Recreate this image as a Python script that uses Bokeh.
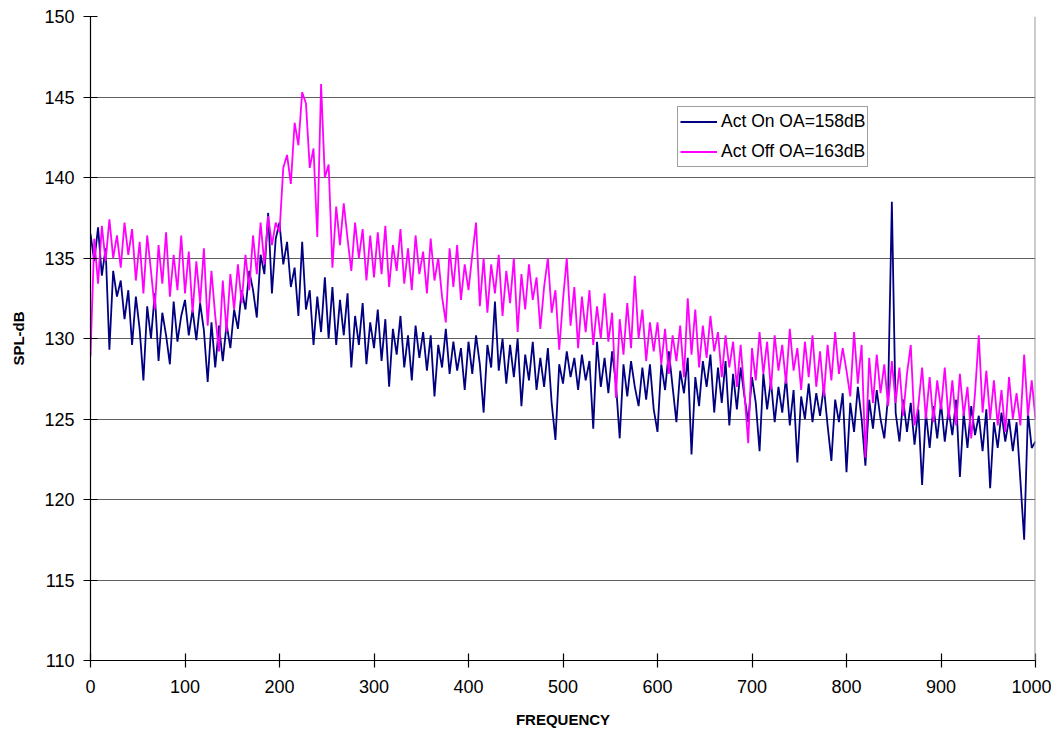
from bokeh.plotting import figure
from bokeh.models import FixedTicker, Span, Legend, LegendItem
from bokeh.embed import file_html
from bokeh.resources import INLINE

# Frequency grid (Hz), 4 Hz spacing
freq = list(range(0, 1001, 4))

# Act On OA=158dB (dB), one row per 100 Hz
act_on = [
    136.5, 134.8, 136.9, 133.9, 135.6, 129.3, 134.2, 132.6, 133.6, 131.2, 133.0, 129.6, 132.6, 130.6, 127.4, 132.0, 130.0, 132.8, 128.6, 131.6, 130.2, 128.4, 132.3, 129.8, 131.4,
    132.4, 130.2, 131.8, 129.9, 132.2, 130.5, 127.3, 131.0, 128.2, 130.8, 128.6, 130.9, 129.4, 131.8, 130.6, 133.0, 131.8, 134.2, 133.0, 131.3, 135.2, 134.0, 137.8, 132.8, 136.2,
    137.2, 134.6, 136.0, 133.2, 134.4, 131.4, 136.0, 131.8, 133.0, 129.6, 132.6, 130.4, 133.8, 130.0, 133.2, 129.6, 132.4, 130.2, 132.8, 128.2, 131.4, 129.6, 132.2, 128.4, 131.0,
    129.4, 131.8, 128.6, 131.2, 127.0, 130.6, 129.0, 131.4, 128.2, 130.2, 127.4, 130.8, 128.8, 130.4, 128.0, 130.2, 126.4, 129.6, 128.2, 130.6, 127.8, 129.8, 128.0, 129.4, 126.8,
    129.8, 127.8, 130.2, 128.4, 125.4, 129.6, 128.2, 132.3, 128.0, 130.0, 127.2, 129.6, 127.6, 130.0, 125.8, 129.0, 127.4, 129.8, 126.8, 128.8, 127.0, 129.4, 126.0, 123.7, 128.4,
    127.2, 129.2, 127.6, 128.8, 126.8, 129.0, 127.4, 128.6, 124.4, 129.8, 127.0, 128.8, 126.6, 129.2, 127.2, 123.8, 128.4, 126.4, 128.6, 127.0, 125.8, 128.2, 126.2, 128.4, 125.6,
    124.2, 128.4, 126.8, 129.2, 127.0, 124.8, 128.0, 126.6, 128.8, 122.8, 127.6, 125.8, 128.6, 127.0, 129.0, 125.4, 128.2, 126.0, 128.6, 124.6, 127.8, 125.6, 128.2, 126.4, 124.8,
    127.6, 126.0, 123.0, 127.8, 125.6, 127.4, 124.8, 127.0, 125.4, 127.6, 124.6, 126.8, 122.3, 126.4, 125.0, 127.2, 124.8, 126.6, 125.2, 127.0, 124.6, 122.4, 126.2, 124.8, 126.6,
    121.7, 126.0, 124.2, 127.0, 125.0, 122.1, 126.2, 124.4, 126.8, 125.0, 123.8, 126.4, 138.5, 125.4, 123.6, 126.2, 124.2, 126.0, 123.4, 125.6, 120.9, 125.4, 123.2, 125.8, 123.8,
    126.0, 123.6, 125.6, 124.0, 126.2, 121.4, 125.4, 123.2, 125.8, 124.0, 125.2, 123.0, 125.6, 120.7, 124.8, 123.2, 125.4, 123.6, 125.0, 123.0, 124.8, 121.2, 117.5, 125.4, 123.2, 123.6,
]

# Act Off OA=163dB (dB)
act_off = [
    128.9, 136.2, 133.4, 137.0, 134.8, 137.4, 135.0, 136.4, 134.4, 137.2, 135.2, 136.8, 133.6, 136.0, 132.8, 136.4, 134.2, 131.8, 135.8, 133.4, 136.6, 132.6, 135.2, 133.0, 136.4,
    132.8, 135.4, 131.6, 134.8, 132.2, 135.6, 130.8, 134.2, 131.4, 129.2, 133.6, 130.4, 134.0, 131.8, 134.6, 132.2, 135.2, 133.0, 136.4, 134.0, 137.2, 134.6, 137.6, 135.8, 137.2,
    136.6, 140.6, 141.4, 139.6, 143.4, 142.0, 145.3, 144.6, 140.6, 141.8, 136.3, 145.8, 140.0, 140.8, 134.4, 138.2, 135.8, 138.4, 136.2, 134.2, 137.2, 135.0, 136.8, 133.6, 136.4,
    133.8, 136.6, 134.0, 137.0, 133.2, 135.8, 134.2, 136.8, 133.4, 135.6, 133.0, 136.4, 134.0, 135.4, 132.8, 136.2, 133.6, 135.0, 132.6, 131.0, 135.6, 133.2, 135.8, 132.4, 134.6,
    133.0, 135.2, 137.2, 132.0, 135.0, 131.6, 134.6, 132.8, 135.2, 131.4, 134.2, 132.2, 135.0, 130.4, 134.0, 131.8, 134.6, 132.4, 133.8, 130.6, 133.2, 135.0, 131.6, 133.0, 129.3,
    132.4, 135.0, 130.8, 133.2, 129.4, 132.6, 130.4, 133.0, 129.6, 132.0, 130.0, 132.8, 129.8, 131.6, 126.3, 131.2, 129.0, 132.2, 129.4, 133.9, 130.0, 131.8, 128.6, 131.0, 129.2,
    131.0, 128.4, 130.6, 127.8, 130.2, 128.6, 130.8, 127.6, 132.5, 129.0, 131.8, 128.2, 130.8, 128.8, 131.4, 129.2, 130.4, 127.6, 130.2, 128.2, 129.8, 127.0, 129.6, 126.6, 123.5,
    129.4, 127.4, 130.4, 127.8, 129.8, 126.8, 130.2, 128.0, 129.6, 127.2, 130.6, 128.0, 129.4, 126.8, 129.8, 127.6, 130.2, 127.0, 129.2, 126.4, 129.6, 127.4, 130.4, 127.8, 129.4,
    128.0, 126.4, 130.4, 127.2, 129.6, 122.6, 128.8, 126.0, 129.0, 126.6, 128.4, 125.8, 128.6, 126.0, 128.2, 125.2, 127.8, 129.6, 124.6, 125.8, 128.2, 125.0, 127.6, 124.8, 127.4,
    125.6, 128.2, 125.0, 127.4, 124.6, 127.8, 125.2, 127.0, 123.8, 126.6, 130.2, 125.4, 128.0, 125.0, 127.4, 124.6, 126.8, 124.2, 127.6, 125.0, 126.6, 124.6, 129.0, 125.2, 127.4, 125.0,
]

y_ticks = [110, 115, 120, 125, 130, 135, 140, 145, 150]
x_ticks = [0, 100, 200, 300, 400, 500, 600, 700, 800, 900, 1000]
series_names = ["Act On OA=158dB", "Act Off OA=163dB"]

FONT = "Liberation Sans"

p = figure(width=1051, height=730, x_range=(0, 1000), y_range=(110, 150),
           output_backend="svg", toolbar_location=None,
           min_border_left=90, min_border_right=16, min_border_top=16, min_border_bottom=68)
p.outline_line_color = None
p.background_fill_color = "white"
p.border_fill_color = "white"

r_on = p.line(freq, act_on, line_color="#000080", line_width=1.8)
r_off = p.line(freq, act_off, line_color="#FF00FF", line_width=1.8)

p.add_layout(Span(location=1000, dimension="height", line_color="#999999", line_width=2))

# Grid
p.xgrid.visible = False
p.ygrid.ticker = FixedTicker(ticks=[115, 120, 125, 130, 135, 140, 145])
p.ygrid.grid_line_color = "#606060"
p.ygrid.grid_line_width = 1.2

for ax, ticks in ((p.yaxis[0], y_ticks), (p.xaxis[0], x_ticks)):
    ax.ticker = FixedTicker(ticks=ticks)
    ax.minor_tick_line_color = None
    ax.major_tick_in = 7
    ax.major_tick_out = 7
    ax.axis_line_color = "black"
    ax.axis_line_width = 1.2
    ax.major_tick_line_color = "black"
    ax.major_tick_line_width = 1.2
    ax.major_label_text_font = FONT
    ax.major_label_text_font_size = "18px"
    ax.major_label_text_color = "black"
    ax.axis_label_text_font = FONT
    ax.axis_label_text_font_style = "bold"
    ax.axis_label_text_font_size = "15px"
    ax.axis_label_text_color = "black"

p.yaxis.axis_label = "SPL-dB"
p.xaxis.axis_label = "FREQUENCY"
p.yaxis.major_label_standoff = 9
p.yaxis.axis_label_standoff = 14
p.xaxis.major_label_standoff = 12
p.xaxis.axis_label_standoff = 15

legend = Legend(items=[LegendItem(label=series_names[0], renderers=[r_on]),
                       LegendItem(label=series_names[1], renderers=[r_off])],
                location=(587, 493))
legend.label_text_font = FONT
legend.label_text_font_size = "17.5px"
legend.label_text_color = "black"
legend.glyph_width = 37
legend.glyph_height = 25
legend.label_height = 25
legend.spacing = 5
legend.padding = 2
legend.margin = 0
legend.label_standoff = 4
legend.border_line_color = "#404040"
legend.border_line_width = 1
legend.background_fill_color = "white"
legend.background_fill_alpha = 1
p.add_layout(legend)

html = file_html(p, INLINE)
open("out.html", "w").write(html)
